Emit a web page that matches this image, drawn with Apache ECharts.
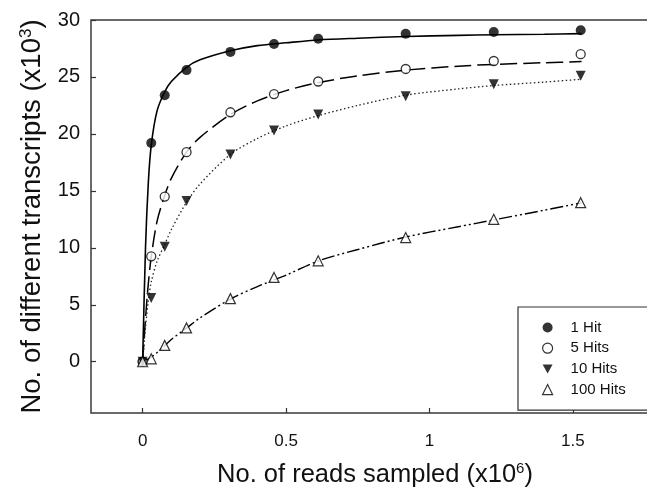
<!DOCTYPE html>
<html>
<head>
<meta charset="utf-8">
<script src="https://cdn.jsdelivr.net/npm/echarts@6/dist/echarts.min.js"></script>
<style>
html,body{margin:0;padding:0;background:#fff;}
#chart{width:647px;height:488px;}
</style>
</head>
<body>
<div id="chart"></div>
<script>
// Sampled points: reads sampled (x10^6)
var readsSampled = [0, 0.03, 0.077, 0.153, 0.306, 0.458, 0.612, 0.917, 1.224, 1.527];
// Number of different transcripts (x10^3) at each sample
var hit1   = [0, 19.2, 23.4, 25.6, 27.2, 27.9, 28.35, 28.8, 28.95, 29.1];
var hit5   = [0, 9.25, 14.5, 18.4, 21.9, 23.5, 24.6, 25.7, 26.4, 27.0];
var hit10  = [0, 5.6, 10.1, 14.1, 18.2, 20.3, 21.7, 23.3, 24.35, 25.1];
var hit100 = [0, 0.26, 1.43, 2.97, 5.54, 7.4, 8.86, 10.9, 12.5, 13.96];

// Fitted curves
var curveX      = [0, 0.01, 0.02, 0.03, 0.05, 0.077, 0.1, 0.153, 0.2, 0.306, 0.4, 0.5, 0.612, 0.75, 0.917, 1.1, 1.224, 1.4, 1.53];
var curve1Hit   = [0, 10.0, 15.8, 19.0, 22.0, 23.7, 24.6, 25.85, 26.5, 27.3, 27.75, 28.0, 28.25, 28.4, 28.55, 28.65, 28.7, 28.75, 28.8];
var curve5Hit   = [0, 3.8, 6.9, 9.2, 12.3, 14.6, 16.1, 18.4, 19.7, 21.7, 22.9, 23.8, 24.5, 25.1, 25.6, 25.95, 26.1, 26.25, 26.35];
var curve10Hit  = [0, 3.0, 5.4, 7.0, 8.8, 10.3, 11.6, 14.0, 15.6, 18.2, 19.6, 20.7, 21.6, 22.5, 23.4, 23.95, 24.25, 24.55, 24.8];
var curve100Hit = [0, 0.13, 0.26, 0.4, 0.8, 1.4, 1.95, 2.95, 3.85, 5.5, 6.6, 7.6, 8.85, 9.85, 10.95, 11.85, 12.45, 13.3, 13.95];

var seriesNames = ['1 Hit', '5 Hits', '10 Hits', '100 Hits'];
var xTicks = [0, 0.5, 1, 1.5];
var yTicks = [0, 5, 10, 15, 20, 25, 30];

function pairs(xs, ys) { return xs.map(function (x, i) { return [x, ys[i]]; }); }

var FONT = '"Liberation Sans", Arial, Helvetica, sans-serif';
var chart = echarts.init(document.getElementById('chart'), null, {renderer: 'canvas'});

var markerStyles = [
  {symbol: 'circle', symbolSize: 10, symbolRotate: 0, itemStyle: {color: '#000', borderWidth: 0}},
  {symbol: 'circle', symbolSize: 9, symbolRotate: 0, itemStyle: {color: '#fff', borderColor: '#000', borderWidth: 1.3}},
  {symbol: 'triangle', symbolSize: 10, symbolRotate: 180, itemStyle: {color: '#000', borderWidth: 0}},
  {symbol: 'triangle', symbolSize: 10, symbolRotate: 0, itemStyle: {color: '#fff', borderColor: '#000', borderWidth: 1.2}}
];
var lineStyles = [
  {color: '#000', width: 1.6, type: 'solid'},
  {color: '#000', width: 1.5, type: [17, 6]},
  {color: '#222', width: 1.3, type: [1.5, 2.5]},
  {color: '#000', width: 1.4, type: [13, 3, 2, 3, 2, 3]}
];
var pointSets = [hit1, hit5, hit10, hit100];
var curveSets = [curve1Hit, curve5Hit, curve10Hit, curve100Hit];

var series = [];
for (var i = 0; i < 4; i++) {
  series.push({
    name: 'fit ' + seriesNames[i], type: 'line', data: pairs(curveX, curveSets[i]),
    smooth: 0.3, showSymbol: false, symbol: 'none', silent: true,
    lineStyle: lineStyles[i], z: 2
  });
}
for (var j = 0; j < 4; j++) {
  series.push({
    name: seriesNames[j], type: 'scatter', data: pairs(readsSampled, pointSets[j]),
    symbol: markerStyles[j].symbol, symbolSize: markerStyles[j].symbolSize,
    symbolRotate: markerStyles[j].symbolRotate, itemStyle: markerStyles[j].itemStyle, z: 5
  });
}

var option = {
  backgroundColor: '#fff',
  animation: false,
  grid: {
    left: 91, top: 20, width: 568, height: 393,
    containLabel: false, outerBoundsMode: 'none',
    show: true, borderColor: '#3a3a3a', borderWidth: 1.5, backgroundColor: 'transparent'
  },
  xAxis: {
    type: 'value', min: -0.18, max: 1.8,
    splitLine: {show: false},
    axisLine: {show: false, onZero: false},
    axisTick: {show: true, inside: true, length: 5, customValues: xTicks, lineStyle: {color: '#333', width: 1.2}},
    axisLabel: {customValues: xTicks, margin: 20, fontSize: 17, color: '#111', fontFamily: FONT,
      formatter: function (v) { return String(v); }},
    name: '{a|No. of reads sampled (x10}{s|6}{a|)}',
    nameLocation: 'middle', nameGap: 48,
    nameTextStyle: {
      rich: {
        a: {fontSize: 25.5, fontFamily: FONT, color: '#111'},
        s: {fontSize: 15, fontFamily: FONT, color: '#111', verticalAlign: 'top', padding: [0, 0, 12, 0]}
      }
    }
  },
  yAxis: {
    type: 'value', min: -4.5, max: 30,
    splitLine: {show: false},
    axisLine: {show: false, onZero: false},
    axisTick: {show: true, inside: true, length: 5, customValues: yTicks, lineStyle: {color: '#333', width: 1.2}},
    axisLabel: {customValues: yTicks, margin: 11, fontSize: 20, color: '#111', fontFamily: FONT,
      formatter: function (v) { return String(v); }},
    name: '{a|No. of different transcripts (x10}{s|3}{a|)}',
    nameLocation: 'middle', nameGap: 42, nameRotate: 90,
    nameTextStyle: {
      rich: {
        a: {fontSize: 27.5, fontFamily: FONT, color: '#111'},
        s: {fontSize: 17, fontFamily: FONT, color: '#111', verticalAlign: 'top', padding: [0, 0, 14, 0]}
      }
    }
  },
  legend: {
    orient: 'vertical', left: 518, top: 307,
    padding: [13, 40, 13, 24], itemGap: 5.7, itemWidth: 10, itemHeight: 10,
    borderColor: '#333', borderWidth: 1.2, backgroundColor: '#fff',
    textStyle: {fontSize: 15, fontFamily: FONT, color: '#111', lineHeight: 14, padding: [0, 0, 0, 13]},
    data: [
      {name: seriesNames[0], icon: 'circle', itemStyle: {color: '#000', borderWidth: 0}},
      {name: seriesNames[1], icon: 'circle', itemStyle: {color: '#fff', borderColor: '#000', borderWidth: 1.2}},
      {name: seriesNames[2], icon: 'path://M0,0L10,0L5,9Z', itemStyle: {color: '#000', borderWidth: 0}},
      {name: seriesNames[3], icon: 'triangle', itemStyle: {color: '#fff', borderColor: '#000', borderWidth: 1.2}}
    ]
  },
  series: series
};
chart.setOption(option);
</script>
</body>
</html>
